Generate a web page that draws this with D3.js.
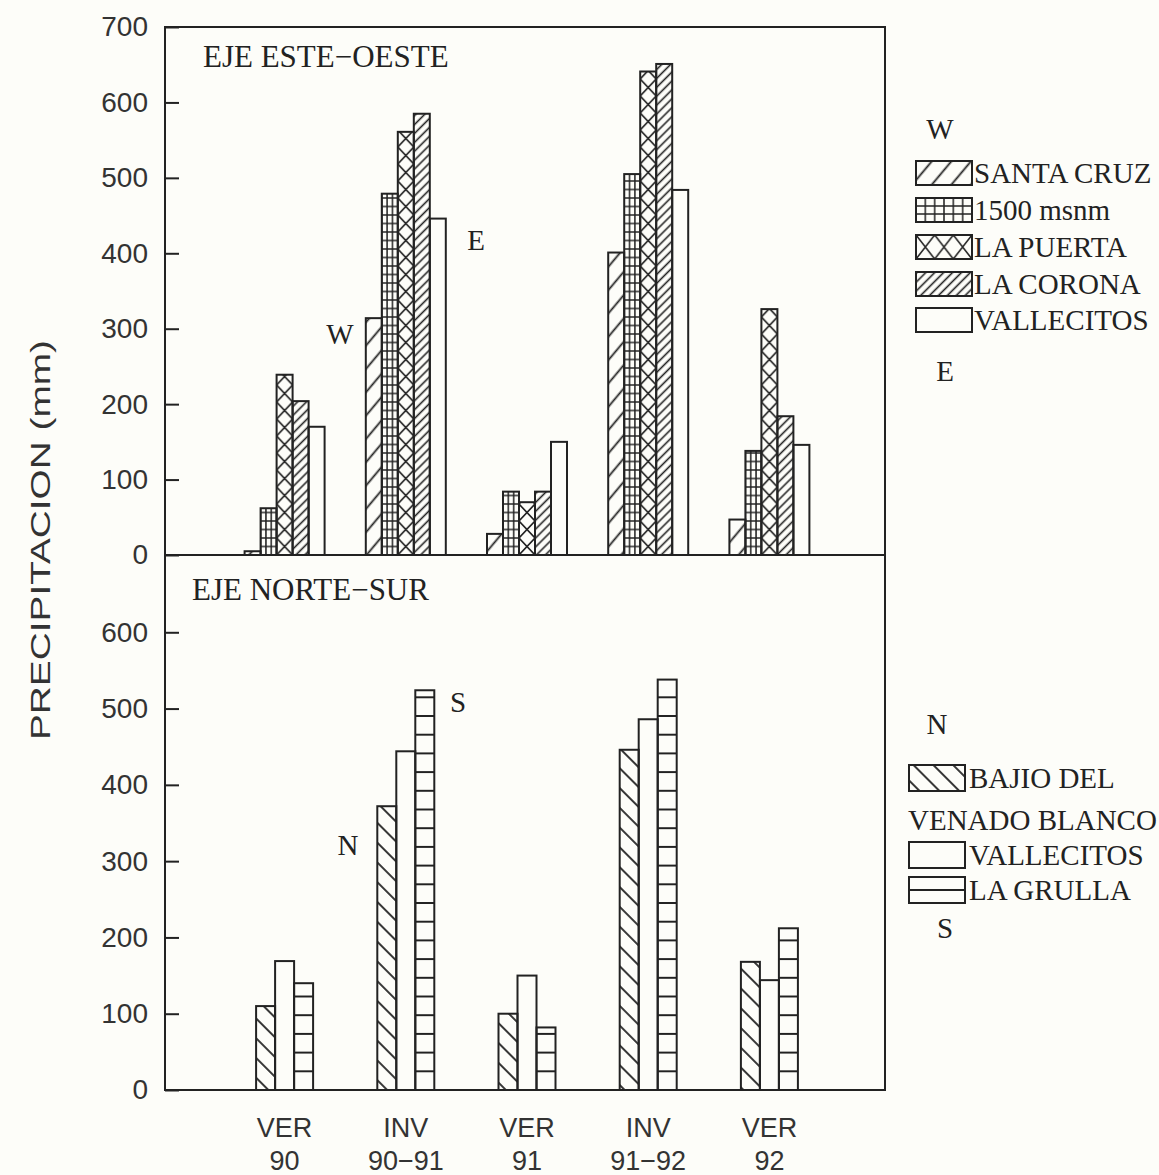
<!DOCTYPE html>
<html><head><meta charset="utf-8">
<script src="https://cdn.jsdelivr.net/npm/d3@7"></script>
<style>body{margin:0;background:#fdfdf9} svg{display:block}</style>
</head><body><svg id="c" width="1159" height="1175"></svg>
<script>
// ---------- data ----------
const seasons = ["VER 90","INV 90-91","VER 91","INV 91-92","VER 92"];
const seasonLine1 = ["VER","INV","VER","INV","VER"];
const seasonLine2 = ["90","90\u221291","91","91\u221292","92"];

const ewStations = ["SANTA CRUZ","1500 msnm","LA PUERTA","LA CORONA","VALLECITOS"];
const santaCruz   = [5, 314, 28, 401, 47];
const m1500       = [62, 479, 84, 505, 138];
const laPuerta    = [239, 561, 70, 641, 326];
const laCorona    = [204, 585, 84, 651, 184];
const vallecitosEW= [170, 446, 150, 484, 146];

const nsStations = ["BAJIO DEL VENADO BLANCO","VALLECITOS","LA GRULLA"];
const bajio        = [110, 372, 100, 446, 168];
const vallecitosNS = [169, 444, 150, 486, 144];
const laGrulla     = [140, 524, 82, 538, 212];

const topTicks = [0,100,200,300,400,500,600,700];
const botTicks = [0,100,200,300,400,500,600];

const ewSeries = [santaCruz, m1500, laPuerta, laCorona, vallecitosEW];
const nsSeries = [bajio, vallecitosNS, laGrulla];
const ewHatch = ["slashWide","grid","diamond","slashDense","none"];
const nsHatch = ["backslash","none","hlines"];

// ---------- layout ----------
const INK = "#222";
const SANS = "'Liberation Sans', Arial, sans-serif";
const SERIF = "'Liberation Serif', 'Times New Roman', serif";
const svg = d3.select("#c");
svg.append("rect").attr("width",1159).attr("height",1175).attr("fill","#fdfdf9");
const defs = svg.append("defs");

const L = 165, R = 885, T = 27, B = 1090, MID = 555;
const yTop = d3.scaleLinear().domain([0,700]).range([MID, T]);
const yBot = d3.scaleLinear().domain([0,700]).range([B, 556]);
const x = d3.scaleBand().domain(seasons).range([224, 830]);
const xEW = d3.scaleBand().domain(ewStations).range([-40, 40]);
const xNS = d3.scaleBand().domain(nsStations).range([-28.5, 28.5]);

// global rotated hatches
function lineHatch(id, spacing, angle, sw){
  const p = defs.append("pattern").attr("id",id).attr("patternUnits","userSpaceOnUse")
    .attr("width",spacing).attr("height",10).attr("patternTransform",`rotate(${angle})`);
  p.append("line").attr("x1",spacing/2).attr("x2",spacing/2).attr("y1",-1).attr("y2",11)
    .attr("stroke",INK).attr("stroke-width",sw);
}
lineHatch("slashWide", 15, 40, 1.8);
lineHatch("slashDense", 6.3, 45, 1.6);
lineHatch("backslash", 14, -45, 1.8);

let pid = 0;
function fillFor(type, x0, y0, w){
  if (type === "none") return "none";
  if (["slashWide","slashDense","backslash"].includes(type)) return `url(#${type})`;
  const id = "p" + (pid++);
  const p = defs.append("pattern").attr("id",id).attr("patternUnits","userSpaceOnUse")
    .attr("x",x0).attr("y",y0);
  if (type === "grid"){
    const cw = w.cols ? w.w / w.cols : w.w/3, ch = w.ch || 8.5;
    p.attr("width",cw).attr("height",ch);
    p.append("path").attr("d",`M0,0H${cw}M0,${ch}H${cw}M0,0V${ch}M${cw},0V${ch}`)
      .attr("stroke",INK).attr("stroke-width",1.5).attr("fill","none");
  } else if (type === "diamond"){
    const cw = w.cols ? w.w / w.cols : w.w, ch = w.ch || 17;
    p.attr("width",cw).attr("height",ch);
    p.append("path").attr("d",`M0,0L${cw},${ch}M${cw},0L0,${ch}`)
      .attr("stroke",INK).attr("stroke-width",1.6).attr("fill","none");
  } else if (type === "hlines"){
    const ch = w.ch || 18.7;
    p.attr("width",w.w).attr("height",ch);
    p.append("path").attr("d",`M0,0H${w.w}M0,${ch}H${w.w}`)
      .attr("stroke",INK).attr("stroke-width",1.8).attr("fill","none");
  }
  return `url(#${id})`;
}

// ---------- bars ----------
const gBars = svg.append("g");
ewSeries.forEach((vals, si) => {
  seasons.forEach((s, i) => {
    const bx = x(s) + x.bandwidth()/2 + xEW(ewStations[si]);
    const bw = xEW.bandwidth();
    const y1 = yTop(vals[i]);
    gBars.append("rect").attr("x",bx).attr("y",y1).attr("width",bw).attr("height",MID - y1)
      .attr("fill", ewHatch[si]==="none" ? "none" : fillFor(ewHatch[si], bx, MID, {w:bw}))
      .attr("stroke",INK).attr("stroke-width",2);
  });
});
nsSeries.forEach((vals, si) => {
  seasons.forEach((s, i) => {
    const bx = x(s) + x.bandwidth()/2 + xNS(nsStations[si]);
    const bw = xNS.bandwidth();
    const y1 = yBot(vals[i]);
    gBars.append("rect").attr("x",bx).attr("y",y1).attr("width",bw).attr("height",B - y1)
      .attr("fill", nsHatch[si]==="none" ? "none" : fillFor(nsHatch[si], bx, B, {w:bw}))
      .attr("stroke",INK).attr("stroke-width",2);
  });
});

// ---------- frame & axes ----------
svg.append("rect").attr("x",L).attr("y",T).attr("width",R-L).attr("height",B-T)
  .attr("fill","none").attr("stroke",INK).attr("stroke-width",2);
svg.append("line").attr("x1",L).attr("x2",R).attr("y1",MID).attr("y2",MID)
  .attr("stroke",INK).attr("stroke-width",2);

function yAxis(scale, ticks){
  const g = svg.append("g").attr("transform",`translate(${L},0)`)
    .call(d3.axisLeft(scale).tickValues(ticks).tickSizeInner(-14).tickSizeOuter(0).tickPadding(17));
  g.select(".domain").remove();
  g.selectAll(".tick line").attr("stroke",INK).attr("stroke-width",2);
  g.selectAll(".tick text").attr("fill","#333").style("font-family",SANS).style("font-size","28px");
  return g;
}
yAxis(yTop, topTicks);
yAxis(yBot, botTicks);

// x labels
const xl = svg.append("g");
seasons.forEach((s,i) => {
  const cx = x(s) + x.bandwidth()/2;
  xl.append("text").attr("x",cx).attr("y",1137).attr("text-anchor","middle")
    .style("font-family",SANS).style("font-size","27px").attr("fill","#333").text(seasonLine1[i]);
  xl.append("text").attr("x",cx).attr("y",1170).attr("text-anchor","middle")
    .style("font-family",SANS).style("font-size","27px").attr("fill","#333").text(seasonLine2[i]);
});

// y title
svg.append("text").attr("transform","translate(50,540) rotate(-90)").attr("text-anchor","middle")
  .attr("textLength",400).attr("lengthAdjust","spacingAndGlyphs")
  .style("font-family",SANS).style("font-size","28px").attr("fill","#333").text("PRECIPITACION (mm)");

// ---------- annotations ----------
function serif(t, xx, yy, size, anchor){
  return svg.append("text").attr("x",xx).attr("y",yy).attr("text-anchor",anchor||"start")
    .style("font-family",SERIF).style("font-size",(size||29)+"px").attr("fill",INK).text(t);
}
serif("EJE ESTE\u2212OESTE", 203, 67, 31);
serif("EJE NORTE\u2212SUR", 192, 600, 31);
serif("W", 340, 344, 29, "middle");
serif("E", 476, 250, 29, "middle");
serif("N", 348, 855, 29, "middle");
serif("S", 458, 712, 29, "middle");

// ---------- legends ----------
serif("W", 940, 139, 29, "middle");
serif("E", 945, 381, 29, "middle");
const ewLegendY = [173, 210, 247, 284, 320];
ewStations.forEach((name, i) => {
  const bx = 916, bw = 56, bh = 24, by = ewLegendY[i] - bh/2;
  let fill = "none";
  if (ewHatch[i] === "grid") fill = fillFor("grid", bx, by, {w:bw, cols:6, ch:8});
  else if (ewHatch[i] === "diamond") fill = fillFor("diamond", bx, by, {w:bw, cols:3, ch:bh});
  else if (ewHatch[i] !== "none") fill = fillFor(ewHatch[i]);
  svg.append("rect").attr("x",bx).attr("y",by).attr("width",bw).attr("height",bh)
    .attr("fill",fill).attr("stroke",INK).attr("stroke-width",2);
  serif(name, 974, ewLegendY[i] + 10, 29);
});

serif("N", 937, 734, 29, "middle");
serif("S", 945, 938, 29, "middle");
const nsLegendY = [778, 855, 890];
nsStations.forEach((name, i) => {
  const bx = 909, bw = 56, bh = 26, by = nsLegendY[i] - bh/2;
  let fill = "none";
  if (nsHatch[i] === "hlines") fill = fillFor("hlines", bx, by, {w:bw, ch:bh/2});
  else if (nsHatch[i] !== "none") fill = fillFor(nsHatch[i]);
  svg.append("rect").attr("x",bx).attr("y",by).attr("width",bw).attr("height",bh)
    .attr("fill",fill).attr("stroke",INK).attr("stroke-width",2);
  if (i === 0){
    serif("BAJIO DEL", 969, nsLegendY[i] + 10, 29);
    serif("VENADO BLANCO", 908, 830, 29);
  } else {
    serif(name, 969, nsLegendY[i] + 10, 29);
  }
});
</script></body></html>
